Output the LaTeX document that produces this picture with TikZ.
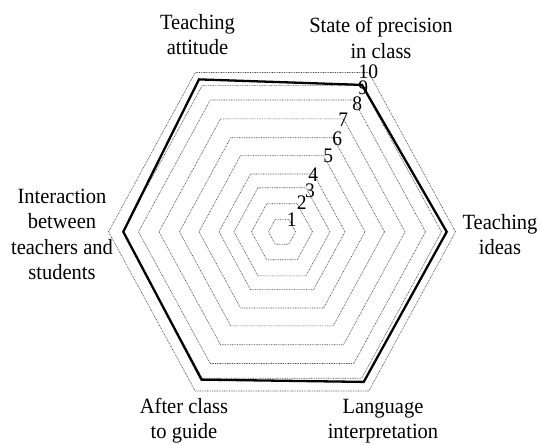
\documentclass[tikz,border=0pt]{standalone}
\usepackage{fontspec}
\setmainfont{Liberation Serif}
\begin{document}
\begin{tikzpicture}[x=1pt,y=1pt,
  ring/.style={black!75, line width=0.65pt, dash pattern=on 0.8pt off 0.9pt},
  series/.style={black, line width=2.3pt, line join=miter},
  axislabel/.style={font=\fontsize{20.5}{24}\selectfont, align=center, inner sep=0pt,
    yscale=1.06, transform shape},
  tick/.style={font=\fontsize{19.5}{19.5}\selectfont, inner sep=0pt,
    yscale=1.06, transform shape}]
\useasboundingbox (0,0) rectangle (542,445);

% radar grid and data series, centred on the chart origin
\begin{scope}[shift={(282,213.2)}, yscale=1.06]
  \foreach \r in {13.5,30.5,48,63,83,102.5,123,143.5,159.5,173.5}
    \draw[ring] (0:\r) -- (60:\r) -- (120:\r) -- (180:\r) -- (240:\r) -- (300:\r) -- cycle;
  \coordinate (ideas)    at (0:164.7);
  \coordinate (precise)  at (60:160);
  \coordinate (attitude) at (120:166);
  \coordinate (interact) at (180:158.7);
  \coordinate (after)    at (240:161);
  \coordinate (language) at (300:163.5);
  \draw[series] (ideas) -- (precise) -- (attitude) -- (interact) -- (after) -- (language) -- cycle;
\end{scope}

% scale values along the upper-right axis
\node[tick] (t1)  at (291.7,225)   {1};
\node[tick] (t2)  at (301.7,242)   {2};
\node[tick] (t3)  at (310,254)     {3};
\node[tick] (t4)  at (313.3,270)   {4};
\node[tick] (t5)  at (328.3,289)   {5};
\node[tick] (t6)  at (337.3,306.7) {6};
\node[tick] (t7)  at (343.3,325)   {7};
\node[tick] (t8)  at (357.3,341)   {8};
\node[tick] (t9)  at (363.3,357.7) {9};
\node[tick] (t10) at (368.3,372.8) {10};

% axis names
\node[axislabel] (la) at (197.5,410.3) {Teaching\\attitude};
\node[axislabel] (lb) at (381,407)     {State of precision\\in class};
\node[axislabel] (lc) at (500,210.3)   {Teaching\\ideas};
\node[axislabel] (ld) at (383,24)      {Language\\interpretation};
\node[axislabel] (le) at (184,24.5)    {After class\\to guide};
\node[axislabel] (lf) at (62,210.8)    {Interaction\\between\\teachers and\\students};
\end{tikzpicture}
\end{document}
